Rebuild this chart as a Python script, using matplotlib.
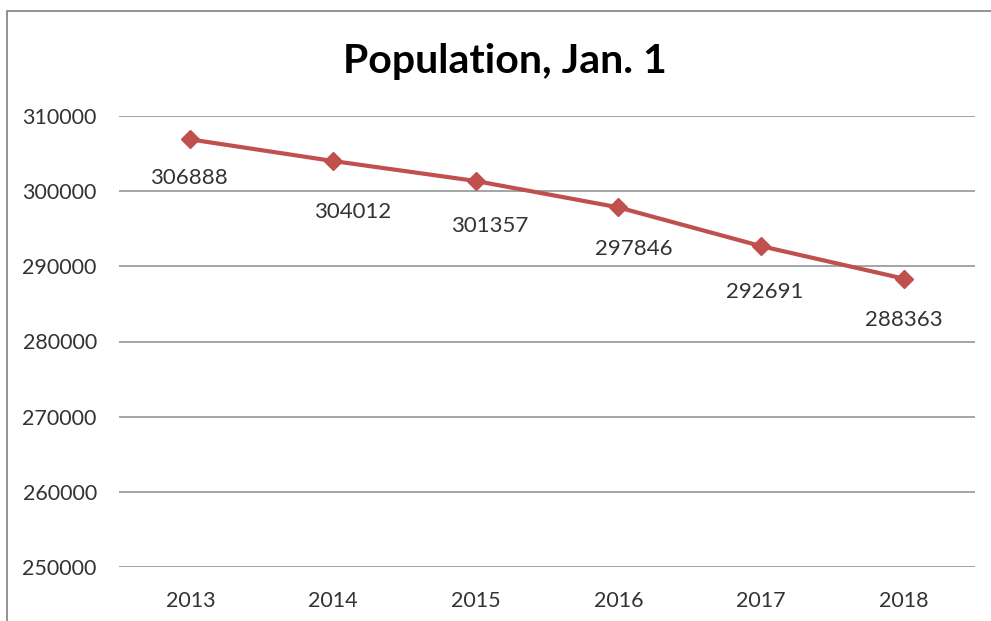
import matplotlib.pyplot as plt
from matplotlib.patches import Rectangle

plt.rcParams['font.family'] = ['Lato', 'DejaVu Sans']

# данные
years = ['2013', '2014', '2015', '2016', '2017', '2018']
population = [306888, 304012, 301357, 297846, 292691, 288363]
y_ticks = [250000, 260000, 270000, 280000, 290000, 300000, 310000]

# смещения подписей (пиксели): вправо, вниз
label_dx = [-1, 20, 14, 15, 4, 0]
label_dy = [39, 51, 45, 42, 46, 41]

line_color = '#C0504D'
grid_color = '#8C8C8C'
text_color = '#333333'

fig = plt.figure(figsize=(9.91, 6.21), dpi=100)
W, H = 991, 621

# рамка диаграммы (обрезана справа и снизу)
fig.patches.append(Rectangle((7 / W, -0.1), 1.2, 1 - 11 / H + 0.1,
                             transform=fig.transFigure, fill=False,
                             edgecolor='#8A8A8A', linewidth=1.3))

ax = fig.add_axes([119 / W, 1 - 567 / H, (975 - 119) / W, (567 - 116) / H])

x = list(range(len(years)))
ax.plot(x, population, color=line_color, linewidth=3, marker='D',
        markersize=9, zorder=3)

for i, v in enumerate(population):
    ax.annotate(str(v), (i, v), xytext=(label_dx[i] * 0.72, -label_dy[i] * 0.72),
                textcoords='offset points', ha='center', va='center',
                fontsize=16, color=text_color)

ax.set_xlim(-0.5, len(years) - 0.5)
ax.set_ylim(y_ticks[0], y_ticks[-1])
ax.set_yticks(y_ticks)
ax.set_yticklabels([str(t) for t in y_ticks])
ax.set_xticks(x)
ax.set_xticklabels(years)
ax.tick_params(axis='both', length=0, labelsize=15.5, labelcolor=text_color)
ax.tick_params(axis='y', pad=16)
ax.tick_params(axis='x', pad=17)

for t in y_ticks:
    ax.axhline(t, color=grid_color, linewidth=1.1, zorder=1)
for s in ax.spines.values():
    s.set_visible(False)

fig.text(505 / W, 1 - 61 / H, 'Population, Jan. 1', ha='center', va='center',
         fontsize=29.5, fontweight='bold', color='black')

fig.savefig('out.png', dpi=100)
